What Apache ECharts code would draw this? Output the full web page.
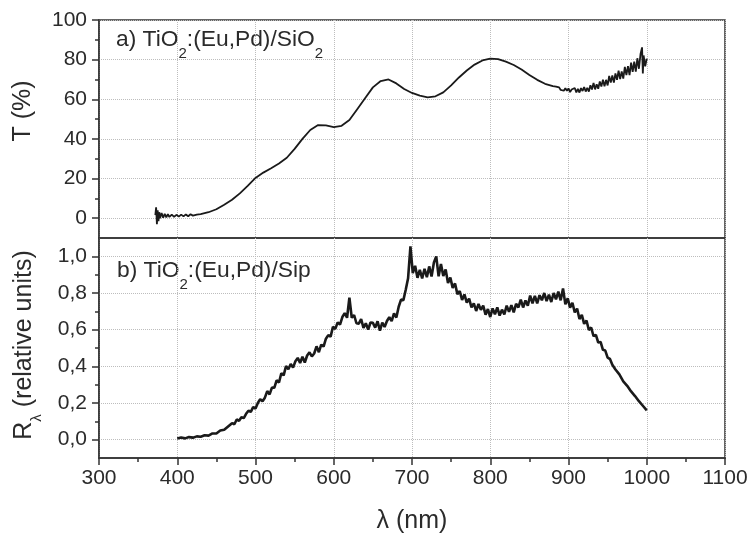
<!DOCTYPE html>
<html>
<head>
<meta charset="utf-8">
<script src="https://cdn.jsdelivr.net/npm/echarts@6/dist/echarts.min.js"></script>
<style>
  html, body { margin: 0; padding: 0; background: #fff; }
  #chart { width: 755px; height: 540px; }
</style>
</head>
<body>
<div id="chart"></div>
<script>
// Panel a) transmission T (%) of TiO2:(Eu,Pd) on SiO2
const transWavelength = [
  372, 373, 374, 375, 376, 377, 378, 380, 382, 384, 386, 388, 390, 393, 396, 399,
  402, 405, 408, 411, 414, 417, 420, 425, 430, 440, 450, 460, 470, 480, 490, 500,
  510, 520, 530, 540, 550, 560, 570, 580, 590, 600, 610, 620, 630, 640, 650, 660,
  670, 680, 690, 700, 710, 720, 730, 740, 750, 760, 770, 780, 790, 800, 810, 820,
  830, 840, 850, 860, 870,
  880, 882, 884, 886, 888, 890, 892, 894, 896, 898, 900, 902, 904, 906, 908, 910,
  912, 914, 916, 918, 920, 922, 924, 926, 928, 930, 932, 934, 936, 938, 940, 942,
  944, 946, 948, 950, 952, 954, 956, 958, 960, 962, 964, 966, 968, 970, 972, 974,
  976, 978, 980, 982, 984, 986, 988, 990, 992, 994, 995, 996, 998, 1000
];
const transValues = [
  1.5, 5.5, -3.0, 4.0, -1.5, 3.0, 0.0, 2.6, 0.2, 2.2, 0.4, 2.0, 0.6, 1.8, 0.7, 1.7,
  0.8, 1.8, 0.9, 1.9, 1.0, 2.0, 1.3, 1.8, 2.0, 3.0, 4.5, 6.8, 9.3, 12.5, 16.3, 20.3,
  23.0, 25.2, 27.6, 30.5, 35.0, 40.0, 44.5, 47.0, 46.8, 46.0, 46.6, 49.5, 55.0, 60.5, 66.0, 69.2,
  70.0, 68.0, 65.2, 63.2, 61.8, 61.0, 61.5, 63.5, 67.0, 71.0, 74.5, 77.5, 79.6, 80.5, 80.3, 79.0,
  77.3, 75.0, 72.3, 69.8, 67.8,
  66.6, 65.7, 66.4, 65.4, 66.0, 64.7, 65.4, 64.3, 65.6, 64.3, 65.5, 63.6, 64.9, 63.9, 65.7, 63.5,
  65.2, 63.4, 65.6, 64.2, 66.2, 63.9, 65.8, 63.9, 67.1, 64.9, 68.2, 65.0, 67.6, 65.3, 69.0, 66.4,
  69.9, 66.6, 69.8, 67.0, 71.8, 68.4, 72.0, 68.4, 73.0, 69.8, 74.4, 70.2, 74.1, 70.4, 76.3, 72.2,
  76.7, 72.2, 78.5, 73.8, 79.0, 73.9, 80.7, 75.4, 82.7, 86.2, 73.0, 82.1, 76.6, 80.5
];

// Panel b) spectral response R(lambda) of TiO2:(Eu,Pd) on Si, relative units
const respWavelength = [
  400, 405, 410, 415, 420, 425, 430, 435, 440, 445, 450, 455, 460, 465,
  470, 473, 476, 479, 482, 485, 488, 491, 494, 497, 500, 503, 506, 509, 512, 515,
  518, 521, 524, 527, 530, 533, 536, 539, 542, 545, 548, 551, 554, 557, 560, 563,
  566, 569, 572, 575, 578, 581, 584, 587, 590, 593, 596, 599, 602, 605, 608, 611,
  614, 617, 620, 623, 626, 629, 632, 635, 638, 641, 644, 647, 650, 653, 656, 659,
  662, 665, 668, 671, 674, 677, 680, 683, 686, 689, 692, 695, 698, 701, 704, 707,
  710, 713, 716, 719, 722, 725, 728, 731, 734, 737, 740, 743, 746, 749, 752, 755,
  758, 761, 764, 767, 770, 773, 776, 779, 782, 785, 788, 791, 794, 797, 800, 803,
  806, 809, 812, 815, 818, 821, 824, 827, 830, 833, 836, 839, 842, 845, 848, 851,
  854, 857, 860, 863, 866, 869, 872, 875, 878, 881, 884, 887, 890, 893, 896, 899,
  902, 905, 908, 911, 914, 917, 920, 923, 926, 929, 932, 935, 938, 941, 944, 947,
  950, 953, 956, 960, 965, 970, 975, 980, 985, 990, 995, 1000
];
const respValues = [
  0.006, 0.012, 0.007, 0.014, 0.011, 0.018, 0.016, 0.024, 0.022, 0.034, 0.034, 0.050, 0.054, 0.072,
  0.090, 0.084, 0.110, 0.103, 0.122, 0.118, 0.141, 0.158, 0.152, 0.177, 0.170, 0.200, 0.221, 0.210, 0.229, 0.265,
  0.247, 0.284, 0.283, 0.324, 0.312, 0.362, 0.351, 0.402, 0.384, 0.413, 0.393, 0.428, 0.446, 0.418, 0.452, 0.421,
  0.459, 0.476, 0.454, 0.470, 0.509, 0.477, 0.518, 0.508, 0.551, 0.570, 0.562, 0.616, 0.604, 0.640, 0.628, 0.669,
  0.690, 0.665, 0.775, 0.665, 0.680, 0.635, 0.633, 0.658, 0.610, 0.635, 0.600, 0.639, 0.637, 0.611, 0.646, 0.595,
  0.639, 0.615, 0.647, 0.668, 0.647, 0.689, 0.666, 0.725, 0.764, 0.761, 0.818, 0.880, 1.055, 0.909, 0.948, 0.883,
  0.926, 0.879, 0.932, 0.886, 0.945, 0.890, 0.966, 1.000, 0.891, 0.958, 0.893, 0.929, 0.854, 0.884, 0.828, 0.852,
  0.794, 0.811, 0.762, 0.792, 0.748, 0.769, 0.722, 0.743, 0.702, 0.740, 0.708, 0.731, 0.682, 0.712, 0.669, 0.716,
  0.684, 0.722, 0.677, 0.709, 0.683, 0.731, 0.697, 0.734, 0.694, 0.741, 0.721, 0.764, 0.721, 0.759, 0.730, 0.786,
  0.744, 0.784, 0.744, 0.788, 0.760, 0.800, 0.756, 0.791, 0.751, 0.800, 0.765, 0.807, 0.760, 0.825, 0.738, 0.771,
  0.720, 0.747, 0.694, 0.715, 0.658, 0.681, 0.632, 0.650, 0.598, 0.612, 0.564, 0.572, 0.530, 0.533, 0.490, 0.486,
  0.447, 0.440, 0.409, 0.383, 0.356, 0.318, 0.294, 0.263, 0.238, 0.210, 0.185, 0.160
];

// Axis ticks
const xTicks = [300, 400, 500, 600, 700, 800, 900, 1000, 1100];
const tMajorTicks = [0, 20, 40, 60, 80, 100];
const tMinorTicks = [10, 30, 50, 70, 90];
const rMajorTicks = [0, 0.2, 0.4, 0.6, 0.8, 1.0];
const rMinorTicks = [0.1, 0.3, 0.5, 0.7, 0.9];

const FONT = '"Liberation Sans", Arial, sans-serif';
const INK = '#2b2b2b';
const FRAME = '#333';
const GRIDLINE = { show: true, lineStyle: { type: 'dotted', color: '#bdbdbd', width: 1 } };

function pairs(xs, ys) {
  return xs.map((x, i) => [x, ys[i]]);
}

function majorY(grid, min, max, ticks, fmt) {
  return {
    type: 'value', gridIndex: grid, position: 'left', min: min, max: max,
    axisLine: { show: true, lineStyle: { color: FRAME, width: 1.5 } },
    axisTick: { show: true, customValues: ticks, length: 7, lineStyle: { color: FRAME, width: 1.5 } },
    axisLabel: { show: true, customValues: ticks, formatter: fmt, fontSize: 21, color: INK, margin: 12, fontFamily: FONT },
    splitLine: GRIDLINE
  };
}
function minorY(grid, min, max, ticks) {
  return {
    type: 'value', gridIndex: grid, position: 'left', min: min, max: max,
    axisLine: { show: false },
    axisTick: { show: true, customValues: ticks, length: 4, lineStyle: { color: FRAME, width: 1.5 } },
    axisLabel: { show: false },
    splitLine: { show: false }
  };
}

const subStyle = { fontSize: 15, lineHeight: 15, verticalAlign: 'bottom', fill: INK, fontFamily: FONT };

const chart = echarts.init(document.getElementById('chart'), null, { renderer: 'canvas' });

chart.setOption({
  animation: false,
  backgroundColor: '#ffffff',
  textStyle: { fontFamily: FONT },
  grid: [
    { left: 99, right: 30, top: 20, height: 218, show: true, borderColor: FRAME, borderWidth: 1.5, backgroundColor: 'transparent' },
    { left: 99, right: 30, top: 238, height: 220, show: true, borderColor: FRAME, borderWidth: 1.5, backgroundColor: 'transparent' }
  ],
  xAxis: [
    {
      type: 'value', gridIndex: 0, min: xTicks[0], max: xTicks[xTicks.length - 1], interval: 100,
      axisLine: { show: false }, axisTick: { show: false }, axisLabel: { show: false },
      splitLine: GRIDLINE
    },
    {
      type: 'value', gridIndex: 1, min: xTicks[0], max: xTicks[xTicks.length - 1], interval: 100,
      axisLine: { show: true, onZero: false, lineStyle: { color: FRAME, width: 1.5 } },
      axisTick: { show: true, length: 7, lineStyle: { color: FRAME, width: 1.5 } },
      minorTick: { show: true, splitNumber: 2, length: 4, lineStyle: { color: FRAME, width: 1.5 } },
      axisLabel: { fontSize: 21, color: INK, margin: 10, fontFamily: FONT, formatter: v => String(v) },
      splitLine: GRIDLINE,
      name: 'λ (nm)', nameLocation: 'middle', nameGap: 51,
      nameTextStyle: { fontSize: 25, color: INK, fontFamily: FONT }
    }
  ],
  yAxis: [
    majorY(0, -10, 100, tMajorTicks, v => String(v)),
    minorY(0, -10, 100, tMinorTicks),
    majorY(1, -0.1, 1.1, rMajorTicks, v => v.toFixed(1).replace('.', ',')),
    minorY(1, -0.1, 1.1, rMinorTicks)
  ],
  graphic: [
    {
      type: 'text', x: 116, y: 40,
      style: {
        text: 'a) TiO{s|2}:(Eu,Pd)/SiO{s|2}',
        font: '22.8px ' + FONT, fill: INK, lineHeight: 42, verticalAlign: 'middle',
        rich: { s: subStyle }
      }
    },
    {
      type: 'text', x: 117, y: 271,
      style: {
        text: 'b) TiO{s|2}:(Eu,Pd)/Sip',
        font: '22.8px ' + FONT, fill: INK, lineHeight: 42, verticalAlign: 'middle',
        rich: { s: subStyle }
      }
    },
    {
      type: 'text', x: 23, y: 111, rotation: Math.PI / 2,
      style: { text: 'T (%)', font: '25px ' + FONT, fill: INK, align: 'center', verticalAlign: 'middle' }
    },
    {
      type: 'text', x: 24, y: 345, rotation: Math.PI / 2,
      style: {
        text: 'R{s|λ} (relative units)',
        font: '25px ' + FONT, fill: INK, align: 'center', verticalAlign: 'middle', lineHeight: 40,
        rich: { s: subStyle }
      }
    }
  ],
  series: [
    {
      type: 'line', xAxisIndex: 0, yAxisIndex: 0,
      data: pairs(transWavelength, transValues),
      showSymbol: false, smooth: false,
      lineStyle: { color: '#1a1a1a', width: 1.8 }
    },
    {
      type: 'line', xAxisIndex: 1, yAxisIndex: 2,
      data: pairs(respWavelength, respValues),
      showSymbol: false, smooth: false,
      lineStyle: { color: '#1a1a1a', width: 2.6 }
    }
  ]
});
</script>
</body>
</html>
